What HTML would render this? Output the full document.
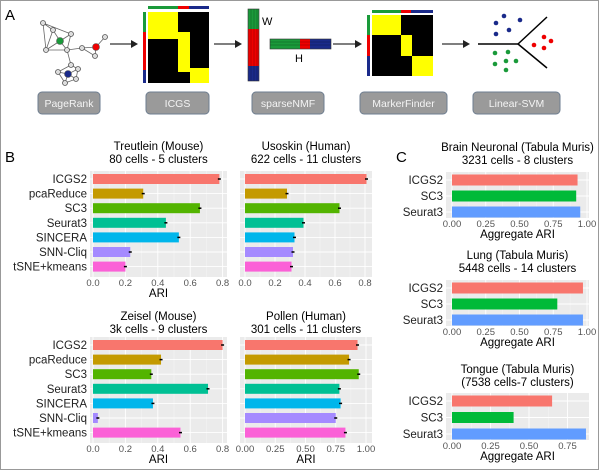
<!DOCTYPE html>
<html><head><meta charset="utf-8"><style>
html,body{margin:0;padding:0;background:#fff}
svg{display:block;font-family:"Liberation Sans",Arial,sans-serif}
</style></head><body>
<svg id="s" width="600" height="470" viewBox="0 0 600 470" xmlns="http://www.w3.org/2000/svg">
<rect x="0.5" y="0.5" width="598" height="469" fill="#fff" stroke="#999"/>
<text x="5" y="20" font-size="15">A</text>
<text x="5" y="162" font-size="15">B</text>
<text x="396" y="162" font-size="15">C</text>
<!-- panel A graph -->
<g stroke="#666" stroke-width="0.8" fill="none">
<path d="M43 23L53 30L46 50L43 23L71 34L67 50L46 50L53 30L60 41L67 50M71 34L60 41L46 50M67 50L82 48L96 47L105 37M82 48L95 56L96 47M67 50L71 65L58 72L65 83L76 79L78 69L71 65M58 72L68 74L76 79M78 69L68 74L65 83"/>
</g>
<g fill="#ddd" stroke="#555" stroke-width="0.8">
<circle cx="43" cy="23" r="2.5"/><circle cx="53" cy="30" r="2.5"/><circle cx="71" cy="34" r="2.5"/><circle cx="46" cy="50" r="2.5"/><circle cx="67" cy="50" r="2.5"/><circle cx="82" cy="48" r="2.5"/><circle cx="95" cy="56" r="2.5"/><circle cx="105" cy="37" r="2.5"/><circle cx="58" cy="72" r="2.5"/><circle cx="65" cy="83" r="2.5"/><circle cx="76" cy="79" r="2.5"/><circle cx="78" cy="69" r="2.5"/><circle cx="71" cy="65" r="2.5"/>
</g>
<circle cx="60" cy="41" r="3.5" fill="#1a9a3a" stroke="#555" stroke-width="0.6"/><circle cx="96" cy="47" r="3.5" fill="#e00" stroke="#555" stroke-width="0.6"/><circle cx="68" cy="74" r="3.5" fill="#1a2a8a" stroke="#555" stroke-width="0.6"/>
<g stroke="#333" stroke-width="1.2"><line x1="110" y1="44" x2="134" y2="44"/><line x1="214" y1="44" x2="238" y2="44"/><line x1="333" y1="44" x2="358" y2="44"/><line x1="442" y1="44" x2="466" y2="44"/></g>
<g fill="#222"><path d="M131 40l7 4-7 4z"/><path d="M235 40l7 4-7 4z"/><path d="M355 40l7 4-7 4z"/><path d="M463 40l7 4-7 4z"/></g>
<!-- ICGS heatmap -->
<rect x="148" y="6" width="30" height="3" fill="#1a9a3a"/><rect x="178" y="6" width="11" height="3" fill="#e00"/><rect x="189" y="6" width="20" height="3" fill="#1a2a8a"/>
<rect x="143" y="12" width="3" height="20" fill="#1a9a3a"/><rect x="143" y="32" width="3" height="38" fill="#e00"/><rect x="143" y="70" width="3" height="13" fill="#1a2a8a"/>
<rect x="148" y="12" width="61" height="71" fill="#000"/>
<rect x="148" y="12" width="30" height="27" fill="#ff0"/><rect x="178" y="32" width="12" height="40" fill="#ff0"/><rect x="190" y="68" width="19" height="15" fill="#ff0"/>
<!-- W -->
<rect x="248" y="9" width="11" height="20" fill="#1a9a3a"/><rect x="248" y="29" width="11" height="37" fill="#e00"/><rect x="248" y="66" width="11" height="15" fill="#1a2a8a"/>
<g stroke="#000" stroke-width="0.4" opacity="0.5"><line x1="251" y1="9" x2="251" y2="81"/><line x1="254" y1="9" x2="254" y2="81"/><line x1="257" y1="9" x2="257" y2="81"/></g>
<rect x="248" y="9" width="11" height="72" fill="none" stroke="#333" stroke-width="0.6"/>
<text x="262" y="25" font-size="11">W</text>
<rect x="270" y="39" width="30" height="10" fill="#1a9a3a"/><rect x="300" y="39" width="10" height="10" fill="#e00"/><rect x="310" y="39" width="21" height="10" fill="#1a2a8a"/>
<g stroke="#000" stroke-width="0.4" opacity="0.5"><line x1="270" y1="42" x2="331" y2="42"/><line x1="270" y1="45" x2="331" y2="45"/></g>
<rect x="270" y="39" width="61" height="10" fill="none" stroke="#333" stroke-width="0.6"/>
<text x="295" y="62" font-size="11">H</text>
<!-- MarkerFinder -->
<rect x="372" y="10" width="29" height="3" fill="#1a9a3a"/><rect x="401" y="10" width="10" height="3" fill="#e00"/><rect x="411" y="10" width="22" height="3" fill="#1a2a8a"/>
<rect x="367" y="15" width="3" height="20" fill="#1a9a3a"/><rect x="367" y="35" width="3" height="21" fill="#e00"/><rect x="367" y="56" width="3" height="20" fill="#1a2a8a"/>
<rect x="372" y="15" width="61" height="61" fill="#000"/>
<rect x="372" y="15" width="29" height="20" fill="#ff0"/><rect x="401" y="35" width="11" height="21" fill="#ff0"/><rect x="412" y="56" width="21" height="20" fill="#ff0"/>
<!-- SVM -->
<g stroke="#000" stroke-width="1.5"><line x1="478" y1="44" x2="518" y2="44"/><line x1="518" y1="44" x2="547" y2="17"/><line x1="518" y1="44" x2="547" y2="68"/></g>
<g fill="#1a2a8a"><circle cx="496" cy="23" r="2.3"/><circle cx="504" cy="16" r="2.3"/><circle cx="520" cy="20" r="2.3"/><circle cx="496" cy="34" r="2.3"/><circle cx="509" cy="30" r="2.3"/></g>
<g fill="#e00"><circle cx="544" cy="37" r="2.3"/><circle cx="551" cy="41" r="2.3"/><circle cx="534" cy="45" r="2.3"/><circle cx="544" cy="48" r="2.3"/></g>
<g fill="#1a9a3a"><circle cx="495" cy="53" r="2.3"/><circle cx="508" cy="52" r="2.3"/><circle cx="495" cy="64" r="2.3"/><circle cx="506" cy="61" r="2.3"/><circle cx="516" cy="61" r="2.3"/><circle cx="506" cy="70" r="2.3"/></g>
<g id="boxes" font-size="10.5" fill="#f4f4f4" text-anchor="middle"></g>
<g id="charts"></g>
</svg>
<script>
var NS="http://www.w3.org/2000/svg";
function el(p,t,a,txt){var e=document.createElementNS(NS,t);for(var k in a)e.setAttribute(k,a[k]);if(txt!=null)e.textContent=txt;p.appendChild(e);return e;}
var bx=document.getElementById('boxes');
[["PageRank",38,100],["ICGS",146,209],["sparseNMF",252,324],["MarkerFinder",360,447],["Linear-SVM",473,560]].forEach(function(b){
 el(bx,'rect',{x:b[1],y:92,width:b[2]-b[1],height:22,rx:4,fill:'#9a9a9a',stroke:'#6e7e90','stroke-width':1});
 el(bx,'text',{x:(b[1]+b[2])/2,y:107},b[0]);
});
var g=document.getElementById('charts');
var cB=['#F8766D','#C49A00','#53B400','#00C094','#00B6EB','#A58AFF','#FB61D7'];
var nB=['ICGS2','pcaReduce','SC3','Seurat3','SINCERA','SNN-Cliq','tSNE+kmeans'];
var cC=['#F8766D','#00BA38','#619CFF'];var nC=['ICGS2','SC3','Seurat3'];
function chart(o){
 el(g,'rect',{x:o.px0,y:o.py0,width:o.px1-o.px0,height:o.py1-o.py0,fill:'#ebebeb'});
 o.ticks.forEach(function(t){var x=o.x0+t[0]*o.sc;
  el(g,'line',{x1:x,x2:x,y1:o.py0,y2:o.py1,stroke:'#fff','stroke-width':0.9});
  el(g,'text',{x:x,y:o.py1+9,'font-size':9.5,fill:'#555','text-anchor':'middle'},t[1]);});
 o.ticks.forEach(function(t,i){if(i<o.ticks.length-1){var x=o.x0+(t[0]+o.ticks[1][0]/2)*o.sc;
  el(g,'line',{x1:x,x2:x,y1:o.py0,y2:o.py1,stroke:'#f5f5f5','stroke-width':0.5});}});
 o.vals.forEach(function(v,i){var y=o.y0+i*o.dy;
  el(g,'line',{x1:o.px0,x2:o.px1,y1:y,y2:y,stroke:'#fff','stroke-width':0.9});
  el(g,'rect',{x:o.x0,y:y-o.bh/2,width:v*o.sc,height:o.bh,fill:o.cols[i]});
  if(o.err){el(g,'line',{x1:o.x0+v*o.sc-1.5,x2:o.x0+v*o.sc+1.5,y1:y,y2:y,stroke:'#000','stroke-width':1.5});}
  el(g,'text',{x:o.px0-3,y:y+4,'font-size':11.5,fill:'#222','text-anchor':'end'},o.names[i]);});
 el(g,'text',{x:(o.px0+o.px1)/2,y:o.ty,'font-size':11.5,'text-anchor':'middle'},o.t1);
 el(g,'text',{x:(o.px0+o.px1)/2,y:o.ty+13,'font-size':11.5,'text-anchor':'middle'},o.t2);
 el(g,'text',{x:(o.px0+o.px1)/2,y:o.py1+20,'font-size':11.5,'text-anchor':'middle'},o.xl);
}
var t08=[[0,'0.0'],[0.2,'0.2'],[0.4,'0.4'],[0.6,'0.6'],[0.8,'0.8']];
var t1=[[0,'0.00'],[0.25,'0.25'],[0.5,'0.50'],[0.75,'0.75'],[1,'1.00']];
var t075=[[0,'0.00'],[0.25,'0.25'],[0.5,'0.50'],[0.75,'0.75']];
chart({px0:90,px1:227,py0:171,py1:277,x0:93,sc:162,y0:179,dy:14.6,bh:10,ticks:t08,vals:[.78,.31,.66,.45,.53,.23,.2],cols:cB,names:nB,err:1,t1:'Treutlein (Mouse)',t2:'80 cells - 5 clusters',ty:150,xl:'ARI'});
chart({px0:240,px1:372,py0:171,py1:277,x0:245,sc:150,y0:179,dy:14.6,bh:10,ticks:t08,vals:[.81,.28,.63,.39,.33,.32,.31],cols:cB,names:['','','','','','',''],err:1,t1:'Usoskin (Human)',t2:'622 cells - 11 clusters',ty:150,xl:''});
chart({px0:90,px1:227,py0:337,py1:443,x0:93,sc:162,y0:345,dy:14.6,bh:10,ticks:t08,vals:[.8,.42,.36,.71,.37,.03,.54],cols:cB,names:nB,err:1,t1:'Zeisel (Mouse)',t2:'3k cells -  9 clusters',ty:320,xl:'ARI'});
chart({px0:240,px1:372,py0:337,py1:443,x0:245,sc:121,y0:345,dy:14.6,bh:10,ticks:t1,vals:[.93,.86,.94,.78,.79,.75,.83],cols:cB,names:['','','','','','',''],err:1,t1:'Pollen (Human)',t2:'301 cells - 11 clusters',ty:320,xl:'ARI'});
chart({px0:446,px1:589,py0:172,py1:218,x0:452,sc:135,y0:180,dy:16,bh:11,ticks:t1,vals:[.93,.92,.95],cols:cC,names:nC,t1:'Brain Neuronal (Tabula Muris)',t2:'3231 cells - 8 clusters',ty:151,xl:'Aggregate ARI'});
chart({px0:446,px1:589,py0:280,py1:326,x0:452,sc:135,y0:288,dy:16,bh:11,ticks:t1,vals:[.97,.78,.97],cols:cC,names:nC,t1:'Lung (Tabula Muris)',t2:'5448 cells - 14 clusters',ty:259,xl:'Aggregate ARI'});
chart({px0:446,px1:589,py0:393,py1:440,x0:452,sc:154,y0:401,dy:16.5,bh:11,ticks:t075,vals:[.65,.4,.87],cols:cC,names:nC,t1:'Tongue (Tabula Muris)',t2:'(7538 cells-7 clusters)',ty:373,xl:'Aggregate ARI'});
</script>
</body></html>
